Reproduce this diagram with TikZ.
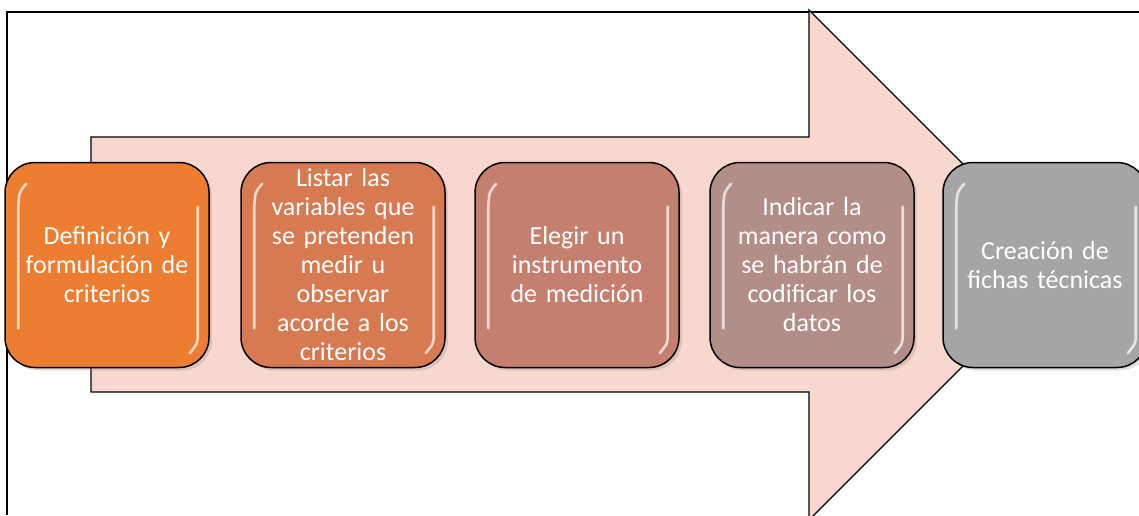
\documentclass[tikz,border=0pt]{standalone}
\usepackage{fontspec}
\setmainfont{Carlito}
\usetikzlibrary{shadows,calc}
\definecolor{arrowpink}{HTML}{F8D8CE}
\definecolor{stepA}{HTML}{ED7D31}
\definecolor{stepB}{HTML}{D77A52}
\definecolor{stepC}{HTML}{C47F6F}
\definecolor{stepD}{HTML}{B38D87}
\definecolor{stepE}{HTML}{A5A5A5}
\tikzset{
  stepbox/.style={draw=black, line width=1.5pt, rounded corners=30pt,
    minimum width=204pt, minimum height=205pt, text width=190pt,
    align=center, text=white, inner sep=0pt,
    font=\fontsize{26}{29}\selectfont,
    drop shadow={opacity=0.25, shadow xshift=3pt, shadow yshift=-3pt}},
  gloss/.style={white, opacity=0.7, line width=2.6pt, line cap=round}
}
\begin{document}
\begin{tikzpicture}[x=1pt, y=1pt]
\useasboundingbox (0,0) rectangle (1139,515);
\draw [line width=1.2pt] (7,0) -- (7,503) -- (1139,503);
%Arrow
\draw [fill=arrowpink, line width=1.3pt] (91,378) -- (91,123) -- (809,123) -- (809,-5)
  -- (1064,250) -- (809,505) -- (809,378) -- cycle;
%Steps
\node (b1) [stepbox, fill=stepA] at (107,250) {Definición y\\formulación de\\criterios};
\node (b2) [stepbox, fill=stepB] at (343,250) {Listar las\\variables que\\se pretenden\\medir u\\observar\\acorde a los\\criterios};
\node (b3) [stepbox, fill=stepC] at (577,250) {Elegir un\\instrumento\\de medición};
\node (b4) [stepbox, fill=stepD] at (812,250) {Indicar la\\manera como\\se habrán de\\codificar los\\datos};
\node (b5) [stepbox, fill=stepE] at (1045,250) {Creación de\\fichas técnicas};
%Gloss
\foreach \b in {b1,b2,b3,b4,b5} {
  \draw [gloss] ($(\b.north west)+(22,-22)$) .. controls ($(\b.north west)+(15,-30)$) .. ($(\b.north west)+(14,-45)$)
    -- ($(\b.south west)+(14,40)$);
  \draw [gloss] ($(\b.north east)+(-12,-45)$) -- ($(\b.south east)+(-12,35)$)
    .. controls ($(\b.south east)+(-12,25)$) .. ($(\b.south east)+(-20,15)$);
}
\end{tikzpicture}
\end{document}
